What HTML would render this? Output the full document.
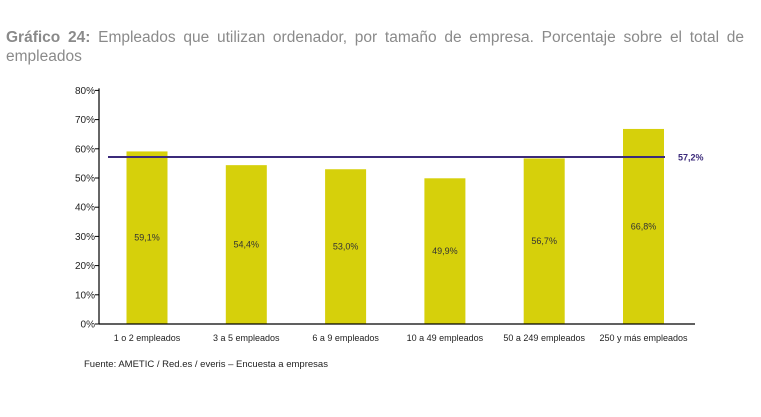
<!DOCTYPE html>
<html><head><meta charset="utf-8"><style>
body{margin:0;background:#fff;width:761px;height:417px;overflow:hidden;font-family:"Liberation Sans",sans-serif}
#title{position:absolute;left:6px;top:28px;width:738px;font-size:15.5px;color:#8a8a8a;line-height:19px;text-align:justify;text-align-last:left}
#title b{color:#8a8a8a}
#src{position:absolute;left:84px;top:359px;font-size:9.5px;color:#222}
</style></head><body>
<div id="title"><b>Gráfico 24:</b> Empleados que utilizan ordenador, por tamaño de empresa. Porcentaje sobre el total de empleados</div>
<svg id="c" width="761" height="417" style="position:absolute;left:0;top:0"></svg>
<div id="src">Fuente: AMETIC / Red.es / everis – Encuesta a empresas</div>
<script>
const categories=["1 o 2 empleados","3 a 5 empleados","6 a 9 empleados","10 a 49 empleados","50 a 249 empleados","250 y más empleados"];
const values=[59.1,54.4,53.0,49.9,56.7,66.8];
const valueLabels=["59,1%","54,4%","53,0%","49,9%","56,7%","66,8%"];
const yTicks=[0,10,20,30,40,50,60,70,80];
const average=57.2;
const averageLabel="57,2%";
const svg=document.getElementById('c'),NS="http://www.w3.org/2000/svg";
const y0=324,sc=2.92,x0=99,xEnd=695,band=99.3,first=147,bw=41;
const y=v=>y0-v*sc, xc=i=>first+i*band;
function mk(t,a,txt){const e=document.createElementNS(NS,t);for(const k in a)e.setAttribute(k,a[k]);if(txt!=null)e.textContent=txt;svg.appendChild(e);return e;}
yTicks.forEach(t=>{
 const l=mk('line',{x1:x0-4,x2:x0,y1:y(t),y2:y(t),stroke:'#000'});
 
 const tx=mk('text',{x:x0-4,y:y(t)+3.5,'text-anchor':'end','font-size':10,fill:'#222'},t+'%');
 
});
values.forEach((v,i)=>{
 const r=mk('rect',{x:xc(i)-bw/2,y:y(v),width:bw,height:v*sc,fill:'#d6d00b'});
 
 const t=mk('text',{x:xc(i),y:y(v/2)+3,'text-anchor':'middle','font-size':9,fill:'#333'},valueLabels[i]);
 
 const c=mk('text',{x:xc(i),y:y0+17,'text-anchor':'middle','font-size':9,fill:'#222'},categories[i]);
 
});
const ax=mk('line',{x1:x0,x2:x0,y1:y(80)-2,y2:y0,stroke:'#000','stroke-width':1.2});

const bx=mk('line',{x1:x0,x2:xEnd,y1:y0,y2:y0,stroke:'#000','stroke-width':1.2});

const al=mk('line',{x1:108,x2:665,y1:y(average),y2:y(average),stroke:'#3b2a7a','stroke-width':2});

const at=mk('text',{x:678,y:y(average)+3.5,'font-size':9,'font-weight':'bold',fill:'#3b2a7a'},averageLabel);

</script>
</body></html>
